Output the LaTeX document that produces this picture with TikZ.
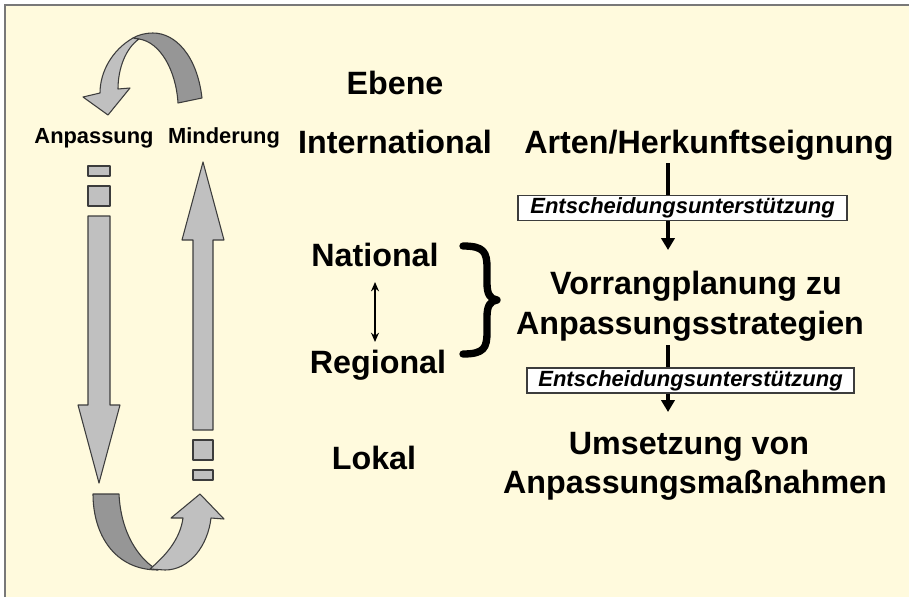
\documentclass[tikz,border=0pt]{standalone}
\usepackage{fontspec}
\setmainfont{Liberation Sans}
\usetikzlibrary{arrows.meta}
\definecolor{cream}{RGB}{255,250,221}
\definecolor{lightband}{RGB}{192,192,192}
\definecolor{darkband}{RGB}{150,150,150}
\definecolor{edge}{RGB}{60,60,60}
\definecolor{frame}{RGB}{120,120,120}
\tikzset{
  bigtxt/.style={font=\fontsize{24.2}{28}\selectfont\bfseries, inner sep=0pt, anchor=base},
  smalltxt/.style={font=\fontsize{16.4}{19}\selectfont\bfseries, inner sep=0pt, anchor=base},
  supportbox/.style={draw=edge, fill=white, line width=1.2pt, inner sep=0pt,
    minimum height=19pt, font=\fontsize{16.5}{19}\selectfont\bfseries\itshape},
  lightshape/.style={fill=lightband, draw=edge, line width=0.8pt, line join=round},
  darkshape/.style={fill=darkband, draw=edge, line width=0.8pt, line join=round},
  flowline/.style={line width=2.8pt},
  flowarrow/.style={line width=2.8pt, -{Triangle[width=10pt,length=9pt]}},
}
\begin{document}
\begin{tikzpicture}[x=0.75pt,y=-0.75pt]
\useasboundingbox (0,0) rectangle (909,597);
\fill[cream] (5,5) rectangle (909,597);
\draw[frame, line width=1.6pt] (5,597) -- (5,5) -- (909,5);

% top curved arrow
\path[darkshape] (178,103) -- (202,98) .. controls (197,55) and (175,33) .. (153,33)
  .. controls (145,33) and (138,35) .. (133,38) -- (139,39)
  .. controls (160,42) and (176,70) .. (178,103) -- cycle;
\path[lightshape] (133,38) .. controls (112,50) and (100,72) .. (100,93) -- (83,97) -- (108,115)
  -- (130,88) -- (118,89) .. controls (118,68) and (126,48) .. (139,39) -- cycle;

% bottom curved arrow
\path[darkshape] (93,494) -- (119,494) .. controls (121,535) and (140,558) .. (153,567)
  -- (158,570) .. controls (115,570) and (93,535) .. (93,494) -- cycle;
\path[lightshape] (150,569) .. controls (165,556) and (180,540) .. (183,518) -- (171,518)
  -- (200,494) -- (224,519) -- (211,518) .. controls (208,545) and (190,570) .. (165,570)
  -- cycle;

% left down arrow
\path[lightshape] (88,166) rectangle (110,176);
\path[lightshape] (88,186) rectangle (110,206);
\path[lightshape] (88,216) -- (110,216) -- (110,405) -- (120,405) -- (99,483) -- (78,405)
  -- (88,405) -- cycle;

% right up arrow
\path[lightshape] (193,430) -- (213,430) -- (213,240) -- (224,240) -- (203,162) -- (182,240)
  -- (193,240) -- cycle;
\path[lightshape] (193,440) rectangle (213,460);
\path[lightshape] (193,470) rectangle (213,480);

% labels left
\node[smalltxt] (anp) at (94,143) {Anpassung};
\node[smalltxt] (mind) at (224,143) {Minderung};

% level column
\node[bigtxt] (ebene) at (395,94) {Ebene};
\node[bigtxt] (intl) at (395,153) {International};
\node[bigtxt] (natl) at (375,266) {National};
\node[bigtxt] (regl) at (378,373) {Regional};
\node[bigtxt] (lokal) at (374,469) {Lokal};

\coordinate (dA) at (375,282);
\coordinate (dB) at (375,342);
\draw[line width=1.4pt, {Stealth[width=6pt,length=7pt]}-{Stealth[width=6pt,length=7pt]}] (dA) -- (dB);

% brace
\draw[line width=5.5pt, line cap=round, line join=round] (463,246)
  .. controls (484,246) and (487,252) .. (487,268) -- (487,283)
  .. controls (487,294) and (490,299) .. (497,300)
  .. controls (490,301) and (487,306) .. (487,317) -- (487,332)
  .. controls (487,348) and (484,354) .. (463,354);

% right column
\node[bigtxt] (arten) at (709,153) {Arten/Herkunftseignung};
\node[supportbox, minimum width=247pt] (box1) at (682.5,208) {Entscheidungsunterst\"utzung};
\node[bigtxt] (vorr1) at (696,294) {Vorrangplanung zu};
\node[bigtxt] (vorr2) at (690,334) {Anpassungsstrategien};
\node[supportbox, minimum width=245pt] (box2) at (690.5,380.5) {Entscheidungsunterst\"utzung};
\node[bigtxt] (ums1) at (689,454) {Umsetzung von};
\node[bigtxt] (ums2) at (695,493) {Anpassungsma\ss nahmen};

\coordinate (a1s) at (668,163);
\coordinate (a1e) at (668,250);
\coordinate (a2s) at (668,345);
\coordinate (a2e) at (668,412);
\draw[flowline] (a1s) -- (a1s |- box1.north);
\draw[flowarrow] (a1e |- box1.south) -- (a1e);
\draw[flowline] (a2s) -- (a2s |- box2.north);
\draw[flowarrow] (a2e |- box2.south) -- (a2e);
\end{tikzpicture}
\end{document}
